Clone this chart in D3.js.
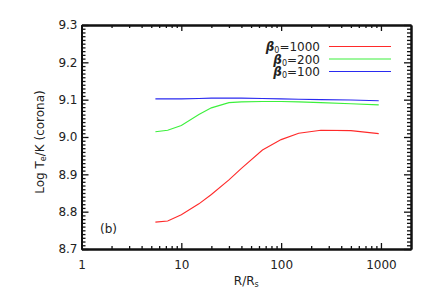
<!DOCTYPE html>
<html>
<head>
<meta charset="utf-8">
<script src="https://cdn.jsdelivr.net/npm/d3@7.9.0/dist/d3.min.js"></script>
<style>
  body { margin: 0; background: #fff; }
  svg text { font-family: "DejaVu Sans", sans-serif; font-size: 12px; fill: #222; }
</style>
</head>
<body>
<svg id="chart" width="436" height="300"></svg>
<script>
// radius grid (R/Rs) shared by all three runs
const radius = [5.5, 7.3, 10, 15, 20, 30, 40, 65, 100, 150, 250, 500, 950];
// log Te for each beta0
const beta1000 = [8.772, 8.775, 8.792, 8.821, 8.846, 8.885, 8.916, 8.965, 8.993, 9.010, 9.018, 9.017, 9.009];
const beta200  = [9.014, 9.018, 9.031, 9.060, 9.078, 9.092, 9.094, 9.095, 9.095, 9.094, 9.092, 9.089, 9.086];
const beta100  = [9.102, 9.102, 9.102, 9.103, 9.104, 9.104, 9.104, 9.103, 9.102, 9.101, 9.100, 9.099, 9.097];
const seriesNames = ['1000', '200', '100'];
const xTickLabels = ['1', '10', '100', '1000'];
const yTickLabels = ['8.7', '8.8', '8.9', '9.0', '9.1', '9.2', '9.3'];

const colors = ['#ff2a2a', '#3cf03c', '#2a2af0'];
const allSeries = [beta1000, beta200, beta100];

const svg = d3.select('#chart');
const margin = {top: 25, right: 25, bottom: 51, left: 81.5};
const W = 436, H = 300;

const x = d3.scaleLog().domain([1, 2000]).range([margin.left, W - margin.right]);
const y = d3.scaleLinear().domain([8.7, 9.3]).range([H - margin.bottom, margin.top]);

// ---- axes (IDL style: ticks inward on all four sides)
const xMajor = xTickLabels.map(Number);
const xMinor = x.ticks().filter(v => !xMajor.includes(v) && v < 2000);
const yMajor = yTickLabels.map(Number);
const yMinor = d3.range(870, 931).map(v => v / 100).filter(v => Math.abs(v * 10 - Math.round(v * 10)) > 1e-6);

function styleAxis(g) {
  g.select('.domain').attr('stroke', '#111').attr('stroke-width', 2);
  g.selectAll('.tick line').attr('stroke', '#111').attr('stroke-width', 1.3);
}

// bottom
svg.append('g').attr('transform', `translate(0,${y(8.7)})`)
  .call(d3.axisBottom(x).tickValues(xMajor).tickSizeInner(-6).tickSizeOuter(0)
    .tickPadding(11).tickFormat((d, i) => xTickLabels[i]))
  .call(styleAxis)
  .call(g => g.selectAll('text').attr('font-size', null).attr('font-family', null));
svg.append('g').attr('transform', `translate(0,${y(8.7)})`)
  .call(d3.axisBottom(x).tickValues(xMinor).tickSizeInner(-3).tickSizeOuter(0).tickFormat(''))
  .call(styleAxis);
// top
svg.append('g').attr('transform', `translate(0,${y(9.3)})`)
  .call(d3.axisTop(x).tickValues(xMajor).tickSizeInner(-6).tickSizeOuter(0).tickFormat(''))
  .call(styleAxis);
svg.append('g').attr('transform', `translate(0,${y(9.3)})`)
  .call(d3.axisTop(x).tickValues(xMinor).tickSizeInner(-3).tickSizeOuter(0).tickFormat(''))
  .call(styleAxis);
// left
svg.append('g').attr('transform', `translate(${x(1)},0)`)
  .call(d3.axisLeft(y).tickValues(yMajor).tickSizeInner(-7).tickSizeOuter(0)
    .tickPadding(4).tickFormat((d, i) => yTickLabels[i]))
  .call(styleAxis)
  .call(g => g.selectAll('text').attr('font-size', null).attr('font-family', null));
svg.append('g').attr('transform', `translate(${x(1)},0)`)
  .call(d3.axisLeft(y).tickValues(yMinor).tickSizeInner(-4).tickSizeOuter(0).tickFormat(''))
  .call(styleAxis);
// right
svg.append('g').attr('transform', `translate(${x(2000)},0)`)
  .call(d3.axisRight(y).tickValues(yMajor).tickSizeInner(-7).tickSizeOuter(0).tickFormat(''))
  .call(styleAxis);
svg.append('g').attr('transform', `translate(${x(2000)},0)`)
  .call(d3.axisRight(y).tickValues(yMinor).tickSizeInner(-4).tickSizeOuter(0).tickFormat(''))
  .call(styleAxis);

// ---- data lines
const line = d3.line().x((d, i) => x(radius[i])).y(d => y(d));
allSeries.forEach((s, idx) => {
  svg.append('path')
    .attr('d', line(s))
    .attr('fill', 'none')
    .attr('stroke', colors[idx])
    .attr('stroke-width', 1.1);
});

// ---- legend
const legX = 320, legLine0 = 329, legLine1 = 391;
seriesNames.forEach((name, idx) => {
  const ly = 46.5 + idx * 12.5;
  const t = svg.append('text').attr('x', legX).attr('y', ly + 4.5).attr('text-anchor', 'end');
  t.append('tspan').attr('font-weight', 'bold').attr('font-style', 'italic').text('\u03b2');
  t.append('tspan').attr('font-size', '8px').attr('dy', 2).text('0');
  t.append('tspan').attr('dy', -2).text('=' + name);
  svg.append('line')
    .attr('x1', legLine0).attr('x2', legLine1)
    .attr('y1', ly).attr('y2', ly)
    .attr('stroke', colors[idx]).attr('stroke-width', 1.1);
});

// ---- labels
svg.append('text').attr('x', 100).attr('y', 233).text('(b)');

const xl = svg.append('text').attr('x', (x(1) + x(2000)) / 2).attr('y', 285).attr('text-anchor', 'middle');
xl.append('tspan').text('R/R');
xl.append('tspan').attr('font-size', '8px').attr('dy', 2).text('s');

const yl = svg.append('text').attr('transform', 'translate(44,142) rotate(-90)').attr('text-anchor', 'middle');
yl.append('tspan').text('Log T');
yl.append('tspan').attr('font-size', '8px').attr('dy', 2).text('e');
yl.append('tspan').attr('dy', -2).text('/K (corona)');
</script>
</body>
</html>
